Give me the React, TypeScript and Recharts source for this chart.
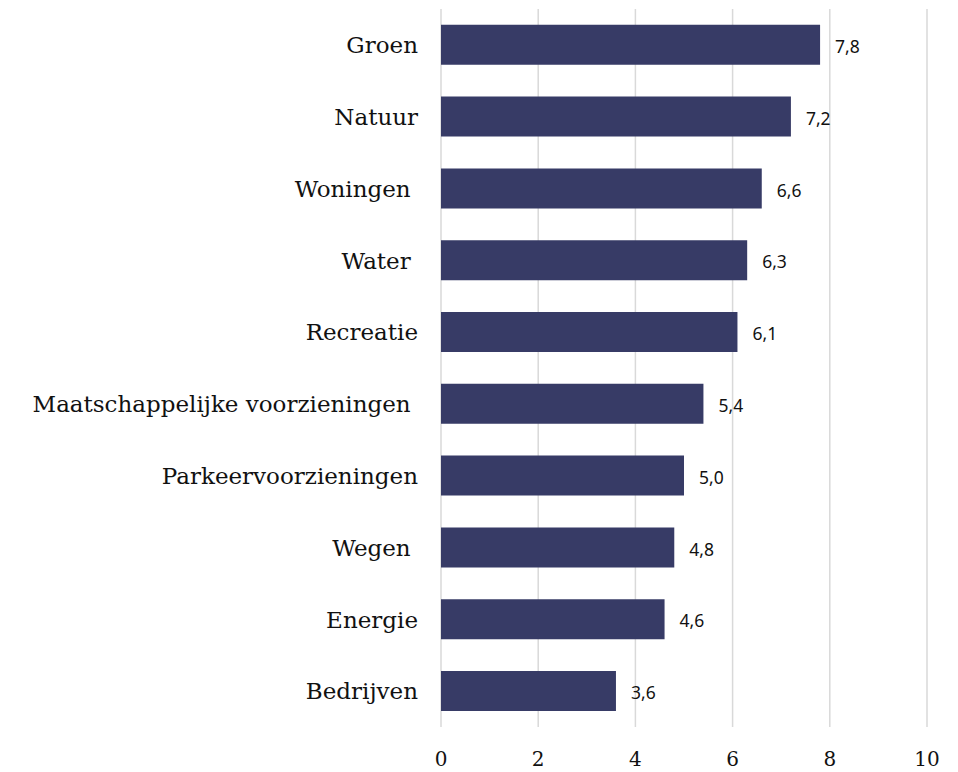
import React from 'react';
import { BarChart, Bar, XAxis, YAxis, CartesianGrid, LabelList } from 'recharts';

const categories = [
  'Groen',
  'Natuur',
  'Woningen ',
  'Water ',
  'Recreatie',
  'Maatschappelijke voorzieningen ',
  'Parkeervoorzieningen',
  'Wegen ',
  'Energie',
  'Bedrijven',
];
const values = [7.8, 7.2, 6.6, 6.3, 6.1, 5.4, 5.0, 4.8, 4.6, 3.6];
const xTicks = [0, 2, 4, 6, 8, 10];

const data = categories.map((name, i) => ({ name, value: values[i] }));

const CatTick = (props: any) => {
  const { x, y, payload } = props;
  return (
    <text
      x={x - 15}
      y={y}
      dy="0.36em"
      textAnchor="end"
      xmlSpace="preserve"
      style={{ whiteSpace: 'pre' }}
      fontFamily="'DejaVu Serif', serif"
      fontSize={23}
      fill="#111"
    >
      {payload.value}
    </text>
  );
};

const NumTick = (props: any) => {
  const { x, y, payload } = props;
  return (
    <text
      x={x}
      y={y}
      dy={31}
      textAnchor="middle"
      fontFamily="'DejaVu Serif', serif"
      fontSize={20}
      fill="#111"
    >
      {payload.value}
    </text>
  );
};

const ValueLabel = (props: any) => {
  const { x, y, width, height, value } = props;
  return (
    <text
      x={x + width + 15}
      y={y + height / 2 + 2}
      dy="0.36em"
      textAnchor="start"
      fontFamily="'Noto Sans', sans-serif"
      fontSize={17.5}
      fill="#111"
    >
      {Number(value).toFixed(1).replace('.', ',')}
    </text>
  );
};

export default function App() {
  return (
    <div style={{ position: 'absolute', left: 0, top: 0 }}>
      <BarChart
        width={958}
        height={772}
        data={data}
        layout="vertical"
        margin={{ top: 9, right: 31, bottom: 0, left: 0 }}
        barCategoryGap="22%"
      >
        <CartesianGrid horizontal={false} vertical={true} stroke="#d9d9d9" strokeWidth={1.5} />
        <XAxis
          type="number"
          domain={[0, 10]}
          ticks={xTicks}
          axisLine={false}
          tickLine={false}
          height={45}
          tick={<NumTick />}
          interval={0}
        />
        <YAxis
          type="category"
          dataKey="name"
          width={441}
          axisLine={false}
          tickLine={false}
          tick={<CatTick />}
          interval={0}
        />
        <Bar dataKey="value" fill="#373b66" isAnimationActive={false}>
          <LabelList dataKey="value" content={<ValueLabel />} />
        </Bar>
      </BarChart>
    </div>
  );
}
